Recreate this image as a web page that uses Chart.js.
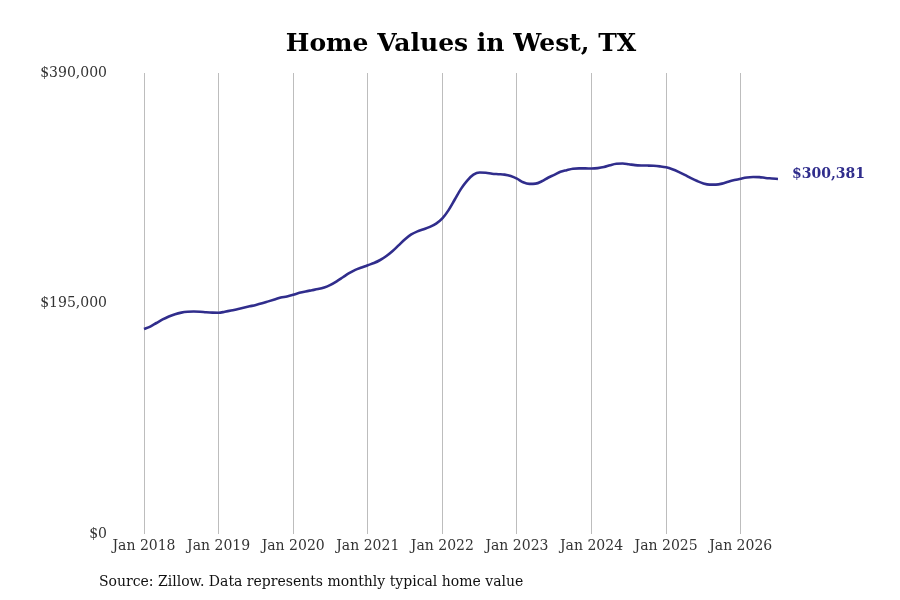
<!DOCTYPE html>
<html>
<head>
<meta charset="utf-8">
<script src="https://cdn.jsdelivr.net/npm/chart.js@4"></script>
<style>
  html, body { margin: 0; padding: 0; background: #fff; }
  #wrap { width: 900px; height: 600px; }
</style>
</head>
<body>
<div id="wrap"><canvas id="c" width="900" height="600"></canvas></div>
<script>
const monthNames = ['Jan','Feb','Mar','Apr','May','Jun','Jul','Aug','Sep','Oct','Nov','Dec'];
const years = [2018, 2019, 2020, 2021, 2022, 2023, 2024, 2025, 2026];
const categories = [];
for (const y of years) for (const m of monthNames) categories.push(m + ' ' + y);
categories.length = 103; // Jan 2018 – Jul 2026

const values2018 = [173400,175500,178500,181500,184000,186000,187300,188000,188200,188000,187600,187300];
const values2019 = [187200,188000,189000,190200,191400,192600,193800,195200,196800,198400,200000,201000];
const values2020 = [202400,204000,205200,206200,207200,208600,210800,213800,217200,220600,223400,225400];
const values2021 = [227400,229200,231800,235200,239400,244400,249400,253400,256000,257800,259800,262600];
const values2022 = [267000,274000,283000,292000,299000,304000,305800,305600,304800,304400,304000,302800];
const values2023 = [300600,297600,296200,296400,298400,301400,303800,306400,307800,309000,309300,309300];
const values2024 = [309200,309500,310400,312000,313200,313400,312800,312100,311800,311700,311500,311000];
const values2025 = [310200,308600,306400,303800,301000,298600,296600,295600,295600,296400,298000,299400];
const values2026 = [300600,301600,302000,301900,301200,300800,300381];
const homeValues = [].concat(values2018, values2019, values2020, values2021, values2022, values2023, values2024, values2025, values2026);

const yTicks = [0, 195000, 390000];
const titleText = 'Home Values in West, TX';
const sourceText = 'Source: Zillow. Data represents monthly typical home value';

const lineColor = '#302d8c';
const serif = "'DejaVu Serif', serif";
const fmt = v => '$' + Math.round(v).toLocaleString('en-US');

const endLabel = {
  id: 'endLabel',
  afterDatasetsDraw(chart) {
    const meta = chart.getDatasetMeta(0);
    const pt = meta.data[meta.data.length - 1];
    const v = homeValues[homeValues.length - 1];
    const ctx = chart.ctx;
    ctx.save();
    ctx.font = 'bold 14px ' + serif;
    ctx.fillStyle = lineColor;
    ctx.textAlign = 'left';
    ctx.textBaseline = 'middle';
    ctx.fillText(fmt(v), pt.x + 14, pt.y - 5);
    ctx.restore();
  }
};

const sourceNote = {
  id: 'sourceNote',
  afterDraw(chart) {
    const ctx = chart.ctx;
    ctx.save();
    ctx.font = '14px ' + serif;
    ctx.fillStyle = '#111';
    ctx.textAlign = 'left';
    ctx.textBaseline = 'middle';
    ctx.fillText(sourceText, 99, 582);
    ctx.restore();
  }
};

new Chart(document.getElementById('c'), {
  type: 'line',
  data: {
    labels: categories,
    datasets: [{
      data: homeValues,
      borderColor: lineColor,
      borderWidth: 2.6,
      pointRadius: 0,
      pointHoverRadius: 0,
      tension: 0.4,
      cubicInterpolationMode: 'monotone',
      fill: false
    }]
  },
  options: {
    responsive: false,
    animation: false,
    devicePixelRatio: 1,
    layout: { padding: { top: 0, right: 122, bottom: 0, left: 0 } },
    plugins: {
      legend: { display: false },
      tooltip: { enabled: false },
      title: {
        display: true,
        text: titleText,
        fullSize: false,
        color: '#000',
        font: { family: serif, size: 25, weight: 'bold' },
        padding: { top: 29, bottom: 14 }
      }
    },
    scales: {
      x: {
        type: 'category',
        offset: false,
        grid: {
          drawTicks: false,
          lineWidth: 1,
          color: c => (categories[c.index] || '').startsWith('Jan') ? '#bdbdbd' : 'rgba(0,0,0,0)'
        },
        border: { display: false },
        ticks: {
          autoSkip: false,
          maxRotation: 0,
          minRotation: 0,
          padding: 4,
          color: '#333',
          font: { family: serif, size: 14 },
          callback: function(val, i) {
            const l = categories[i];
            return l.startsWith('Jan') ? l : '';
          }
        },
        afterFit: s => { s.height = 66; }
      },
      y: {
        min: 0,
        max: 390000,
        grid: { display: false, drawTicks: false },
        border: { display: false },
        afterBuildTicks: s => { s.ticks = yTicks.map(v => ({ value: v })); },
        ticks: {
          padding: 37,
          color: '#333',
          font: { family: serif, size: 14 },
          callback: v => fmt(v)
        },
        afterFit: s => { s.width = 144; }
      }
    }
  },
  plugins: [endLabel, sourceNote]
});
</script>
</body>
</html>
